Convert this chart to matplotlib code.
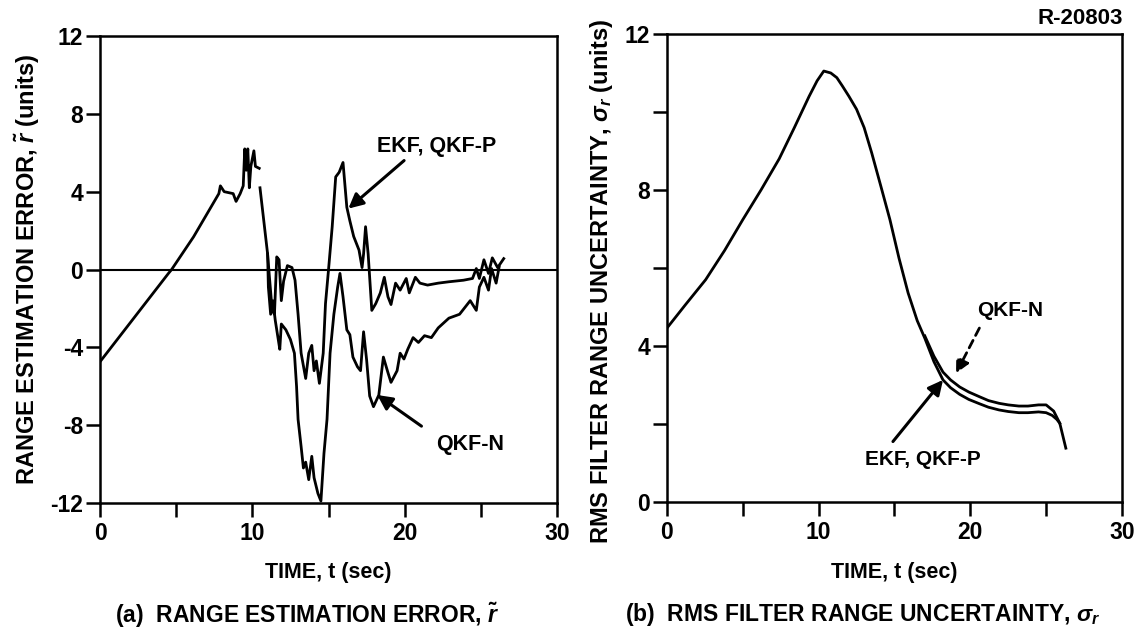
import matplotlib
matplotlib.use('Agg')
import matplotlib.pyplot as plt

plt.rcParams['font.family'] = ['Liberation Sans', 'DejaVu Sans']
plt.rcParams['font.weight'] = 'bold'
plt.rcParams['axes.labelweight'] = 'bold'
plt.rcParams['axes.unicode_minus'] = False
plt.rcParams['mathtext.fontset'] = 'custom'
plt.rcParams['mathtext.it'] = 'Liberation Sans:italic:bold'
plt.rcParams['mathtext.rm'] = 'Liberation Sans:bold'

# (a) range estimation error -- common part before the filters split
# (nan = pen lift in the original trace)
common_t = [0, 4.49, 4.7, 6.14, 7.8, 7.9, 8.15, 8.74, 8.93, 9.2, 9.4, 9.5, 9.6, 9.7,
            9.8, 9.9, 10.1, 10.2, 10.45, 10.45, 10.5, 11.0]
common_y = [-4.74, -0.2, 0.0, 1.68, 3.9, 4.3, 4.0, 3.9, 3.5, 3.9, 4.3, 6.2, 5.1, 6.2,
            4.2, 5.3, 6.1, 5.3, 5.2, float('nan'), 4.2, 0.8]

# EKF, QKF-P branch
ekf_t = [11.1, 11.3, 11.45, 11.6, 11.75, 11.9, 12.05, 12.3, 12.6, 12.8, 13.0, 13.2, 13.5,
         13.7, 13.9, 14.05, 14.2, 14.4, 14.65, 14.8, 15.0, 15.24, 15.47, 15.7, 15.95,
         16.2, 16.4, 16.65, 17.0, 17.2, 17.3, 17.43, 17.6, 17.84, 18.1, 18.4, 18.66,
         18.9, 19.1, 19.4, 19.7, 20.1, 20.3, 20.7, 21.0, 21.5, 22.2, 22.9, 23.86, 24.45,
         24.7, 24.9, 25.2, 25.5, 25.75, 26.1, 26.5]
ekf_y = [-0.2, -2.1, -2.3, 0.65, 0.5, -1.6, -0.6, 0.2, 0.1, -0.55, -2.3, -4.3, -5.6,
         -4.3, -3.9, -5.2, -4.7, -5.85, -4.3, -1.75, 0.0, 2.2, 4.76, 5.0, 5.5,
         3.2, 2.5, 1.7, 1.0, 0.1, 0.8, 2.2, 0.8, -2.1, -1.75, -1.2, -0.4,
         -1.4, -1.8, -0.7, -1.06, -0.46, -1.2, -0.4, -0.7, -0.8, -0.7, -0.63, -0.55, -0.46,
         0.05, -0.46, 0.5, -0.2, 0.6, 0.1, 0.56]

# QKF-N branch
qkfn_t = [11.05, 11.2, 11.35, 11.5, 11.7, 11.8, 11.9, 12.2, 12.5, 12.76, 12.9, 13.0, 13.2,
          13.35, 13.5, 13.7, 13.9, 14.05, 14.3, 14.5, 14.7, 14.9, 15.1, 15.35, 15.6,
          15.75, 15.95, 16.2, 16.4, 16.6, 16.9, 17.1, 17.3, 17.5, 17.7, 17.95, 18.3,
          18.6, 18.9, 19.1, 19.5, 19.7, 19.95, 20.2, 20.55, 20.9, 21.3, 21.75, 22.2,
          22.9, 23.6, 24.0, 24.3, 24.7, 24.9, 25.2, 25.5, 25.7, 26.0, 26.2]
qkfn_y = [-0.9, -2.3, -1.6, -2.6, -3.6, -4.1, -2.8, -3.1, -3.6, -4.3, -6.0, -7.7, -9.1,
          -10.2, -9.9, -10.8, -9.6, -10.7, -11.5, -11.9, -9.45, -7.7, -4.3, -2.3, -0.9,
          -0.2, -1.4, -3.1, -3.35, -4.5, -5.0, -5.2, -3.2, -4.65, -6.5, -7.05, -6.45,
          -4.5, -5.3, -5.8, -5.2, -4.3, -4.6, -4.1, -3.5, -3.75, -3.4, -3.5, -3.0,
          -2.5, -2.3, -1.9, -1.6, -2.1, -0.9, -0.4, -1.06, 0.05, -0.7, 0.14]

# (b) rms filter range uncertainty -- common part
rms_t = [0, 1.2, 2.55, 3.8, 5.0, 6.2, 7.4, 8.4, 9.37, 9.9, 10.34, 10.8, 11.2, 11.56,
         12.0, 12.5, 13.0, 13.5, 14.1, 14.7, 15.3, 15.9, 16.5, 17.0]
rms_y = [4.46, 5.05, 5.7, 6.45, 7.24, 8.0, 8.8, 9.6, 10.4, 10.8, 11.05, 11.0, 10.88, 10.67,
         10.4, 10.07, 9.6, 8.95, 8.1, 7.24, 6.25, 5.36, 4.65, 4.2]
# EKF, QKF-P (lower) tail
rms_ekf_t = [17.0, 17.6, 18.2, 18.7, 19.3, 19.9, 20.6, 21.2, 21.9, 22.5, 23.2, 23.8,
             24.5, 25.0, 25.4, 25.7, 25.9, 26.1, 26.3]
rms_ekf_y = [4.2, 3.6, 3.13, 2.93, 2.76, 2.63, 2.52, 2.43, 2.36, 2.32, 2.29, 2.29,
             2.31, 2.29, 2.22, 2.12, 2.02, 1.7, 1.38]
# QKF-N (upper) tail
rms_qkfn_t = [17.0, 17.6, 18.2, 18.7, 19.3, 19.9, 20.6, 21.2, 21.9, 22.5, 23.2, 23.8,
              24.5, 25.0, 25.5, 25.9]
rms_qkfn_y = [4.26, 3.74, 3.33, 3.13, 2.95, 2.82, 2.7, 2.6, 2.53, 2.49, 2.46, 2.46,
              2.49, 2.49, 2.33, 2.02]

LW = 2.0

fig = plt.figure(figsize=(11.38, 6.34), dpi=100)
ax1 = fig.add_axes([0.0879, 0.2066, 0.4016, 0.7366])
ax2 = fig.add_axes([0.5861, 0.2082, 0.3998, 0.7382])

arrow_kw = dict(arrowstyle='-|>', color='black', lw=2.2, mutation_scale=22,
                shrinkA=0, shrinkB=0)

# --- panel (a)
ax1.plot(common_t + ekf_t, common_y + ekf_y, color='black', lw=LW)
ax1.plot(common_t[-1:] + qkfn_t, common_y[-1:] + qkfn_y, color='black', lw=LW)
ax1.axhline(0, color='black', lw=1.5)
ax1.set_xlim(0, 30)
ax1.set_ylim(-12, 12)
ax1.set_yticks([-12, -8, -4, 0, 4, 8, 12])
ax1.set_ylabel(r'RANGE ESTIMATION ERROR, $\tilde{r}$ (units)', fontsize=17, va='center')
ax1.yaxis.set_label_coords(-0.158, 0.5)
ax1.xaxis.set_label_coords(0.496, -0.148)

ax1.text(22.1, 6.3, 'EKF, QKF-P', fontsize=15.5, ha='center', va='center')
ax1.annotate('', xy=(16.3, 3.13), xytext=(19.96, 5.6), arrowprops=arrow_kw)
ax1.text(24.3, -9.0, 'QKF-N', fontsize=15.5, ha='center', va='center')
ax1.annotate('', xy=(18.2, -6.45), xytext=(21.1, -8.05), arrowprops=arrow_kw)

# --- panel (b)
ax2.plot(rms_t + rms_ekf_t, rms_y + rms_ekf_y, color='black', lw=LW)
ax2.plot(rms_qkfn_t, rms_qkfn_y, color='black', lw=LW)
ax2.set_xlim(0, 30)
ax2.set_ylim(0, 12)
ax2.set_yticks([0, 4, 8, 12])
ax2.set_yticks([2, 6, 10], minor=True)
ax2.set_ylabel(r'RMS FILTER RANGE UNCERTAINTY, $\sigma_r$ (units)', fontsize=17,
               va='center')
ax2.yaxis.set_label_coords(-0.145, 0.472)
ax2.xaxis.set_label_coords(0.549, -0.15)

ax2.text(22.6, 4.92, 'QKF-N', fontsize=15, ha='center', va='center')
ax2.annotate('', xy=(19.06, 3.3), xytext=(20.6, 4.46),
             arrowprops=dict(arrow_kw, lw=2.0, ls=(0, (3, 2)), mutation_scale=20))
ax2.text(16.85, 1.08, 'EKF, QKF-P', fontsize=15, ha='center', va='center')
ax2.annotate('', xy=(18.2, 3.13), xytext=(14.9, 1.55), arrowprops=arrow_kw)

for ax in (ax1, ax2):
    ax.set_xticks([0, 10, 20, 30])
    ax.set_xticks([5, 15, 25], minor=True)
    ax.tick_params(which='both', direction='out', length=10, width=1.8, labelsize=16.5)
    ax.tick_params(axis='y', pad=2)
    ax.tick_params(axis='x', pad=4)
    ax.set_xlabel('TIME, t (sec)', fontsize=15.5, va='center')
    for sp in ax.spines.values():
        sp.set_linewidth(1.8)

fig.text(0.270, 0.030, r'(a)  RANGE ESTIMATION ERROR, $\tilde{r}$', fontsize=16.5,
         ha='center', va='center')
fig.text(0.758, 0.030, r'(b)  RMS FILTER RANGE UNCERTAINTY, $\sigma_r$', fontsize=16.5,
         ha='center', va='center')
fig.text(0.987, 0.9716, 'R-20803', fontsize=16, ha='right', va='center')

fig.savefig('out.png', dpi=100)
